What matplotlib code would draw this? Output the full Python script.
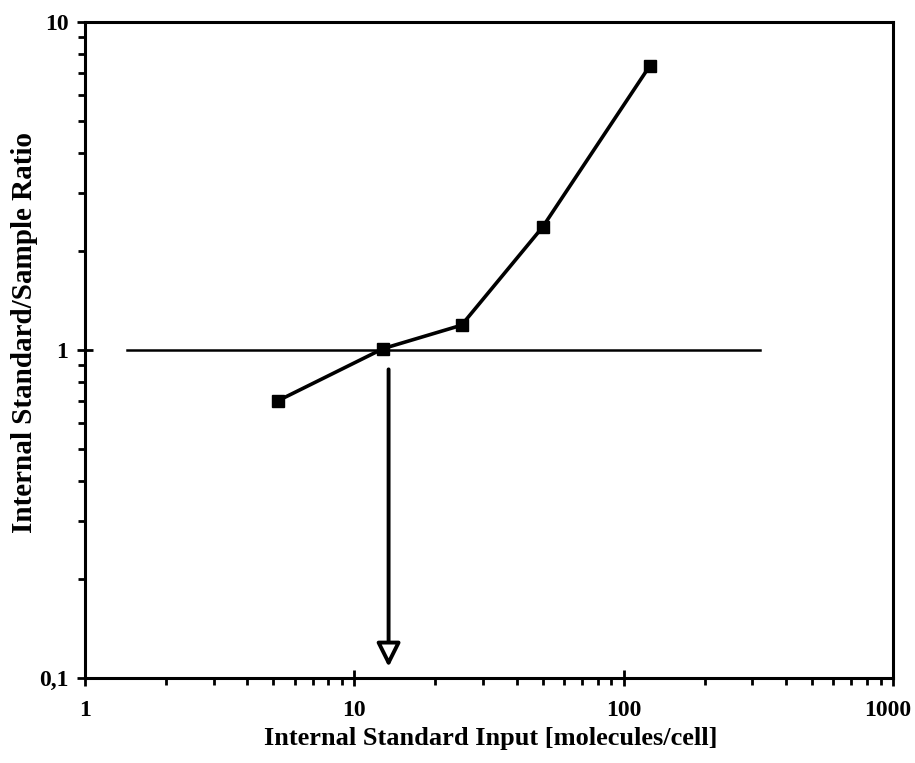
import numpy as np
import matplotlib.pyplot as plt
import matplotlib.transforms as mtransforms
from matplotlib.ticker import FixedLocator, LogLocator, NullFormatter

# data
std_input = [5.2, 12.8, 25, 50, 125]
ratio = [0.70, 1.01, 1.19, 2.37, 7.35]
ref_line_x = [1.43, 320]
ref_line_y = [1.0, 1.0]
arrow_x = 13.4
arrow_y = [0.89, 0.106]

xticks = [1, 10, 100, 1000]
xticklabels = ['1', '10', '100', '1000']
yticks = [0.1, 1, 10]
yticklabels = ['0,1', '1', '10']

plt.rcParams['font.family'] = ['Liberation Serif', 'DejaVu Serif']
plt.rcParams['font.weight'] = 'bold'

fig = plt.figure(figsize=(9.15, 7.63), dpi=100)
ax = fig.add_axes([0.0929, 0.1114, 0.8831, 0.8598])

ax.plot(ref_line_x, ref_line_y, color='black', lw=1.8)
ax.plot(std_input, ratio, color='black', lw=2.6, marker='s', ms=8,
        mfc='black', mec='black')
ax.annotate('', xy=(arrow_x, arrow_y[1]), xytext=(arrow_x, arrow_y[0]),
            arrowprops=dict(arrowstyle='-|>', fc='white', ec='black',
                            lw=2.8, mutation_scale=36))

ax.set_xscale('log')
ax.set_yscale('log')
ax.set_xlim(1, 1000)
ax.set_ylim(0.1, 10)

ax.xaxis.set_major_locator(FixedLocator(xticks))
ax.set_xticklabels(xticklabels)
ax.yaxis.set_major_locator(FixedLocator(yticks))
ax.set_yticklabels(yticklabels)
ax.xaxis.set_minor_locator(LogLocator(base=10, subs=np.arange(2, 10)))
ax.yaxis.set_minor_locator(LogLocator(base=10, subs=np.arange(2, 10)))
ax.xaxis.set_minor_formatter(NullFormatter())
ax.yaxis.set_minor_formatter(NullFormatter())

ax.tick_params(which='major', direction='inout', length=12, width=2,
               labelsize=17)
ax.tick_params(axis='x', which='major', pad=10)
ax.tick_params(axis='y', which='major', pad=6)
ax.tick_params(which='minor', direction='out', length=5, width=2)
for sp in ax.spines.values():
    sp.set_linewidth(2.2)

# pull "1000" slightly left so it stays inside the figure
last = ax.get_xticklabels()[-1]
last.set_transform(last.get_transform() +
                   mtransforms.ScaledTranslation(-5 / 100, 0, fig.dpi_scale_trans))

ax.set_xlabel('Internal Standard Input [molecules/cell]', fontsize=19,
              fontweight='bold')
ax.set_ylabel('Internal Standard/Sample Ratio', fontsize=21,
              fontweight='bold')
ax.xaxis.set_label_coords(0.502, -0.075)
ax.yaxis.set_label_coords(-0.058, 0.527)

plt.savefig('out.png', dpi=100)
